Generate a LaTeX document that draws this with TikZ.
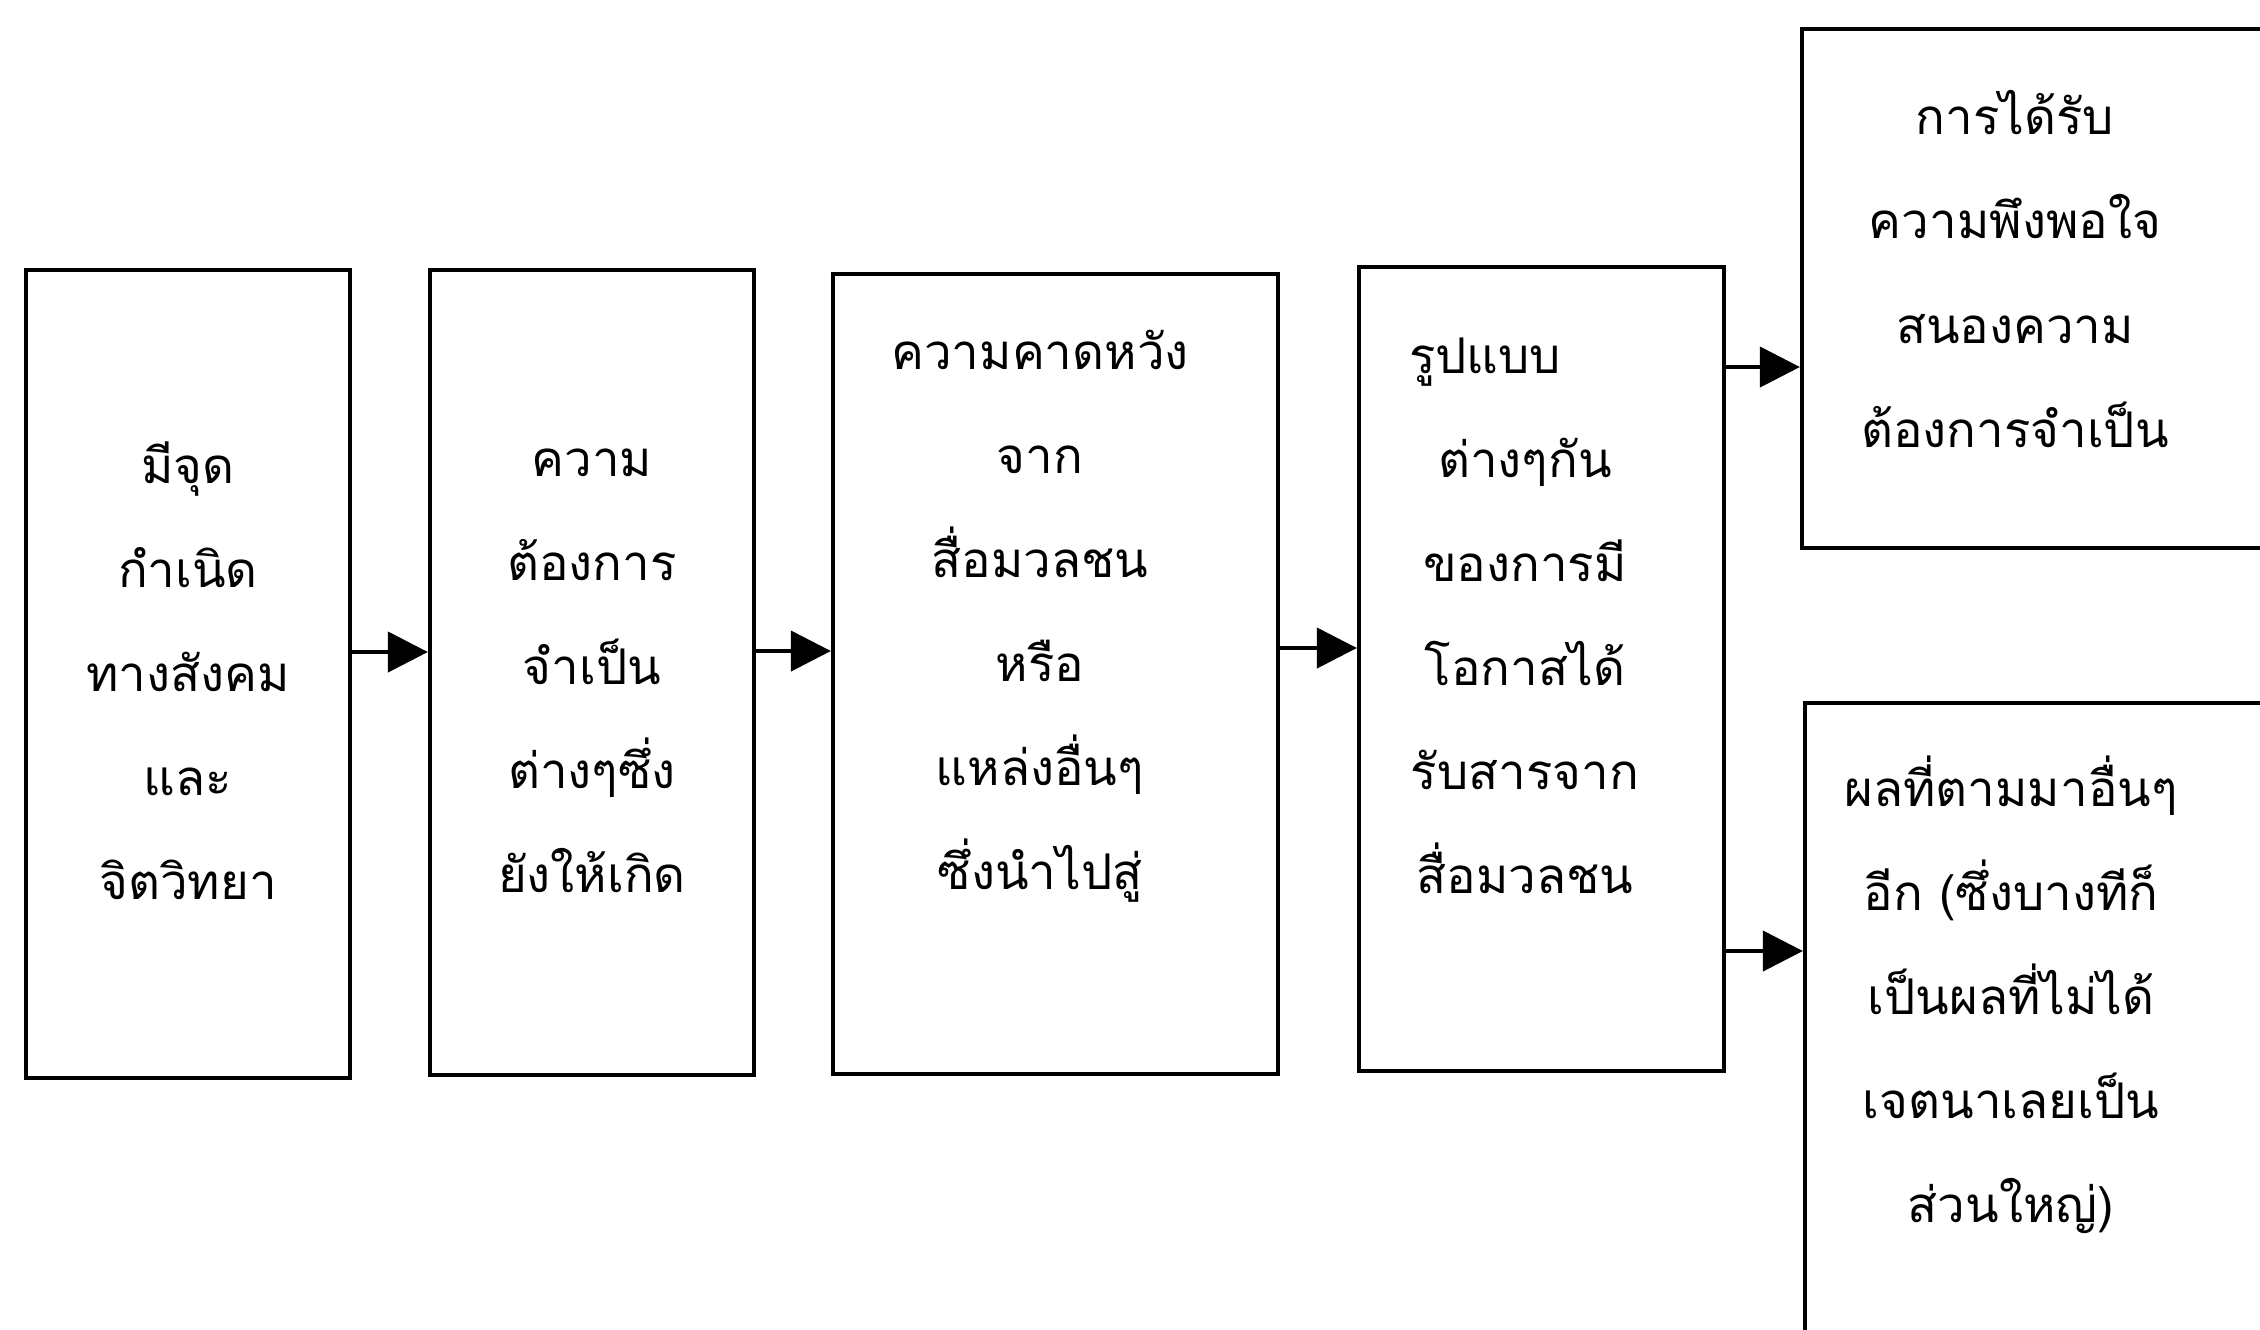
\documentclass[tikz,border=0pt]{standalone}
\usepackage{fontspec}
\newfontfamily\thaifont[Script=Thai]{Loma}
\usetikzlibrary{arrows.meta,fit}
\tikzset{
  box/.style={draw, line width=1.2pt, inner sep=0pt},
  txt/.style={font=\thaifont\fontsize{14}{29.6}\selectfont, align=center, inner sep=0pt},
  arr/.style={line width=1.2pt, -{Triangle[length=0.4cm,width=0.4cm]}}
}
\begin{document}
\begin{tikzpicture}[x=0.01cm,y=-0.01cm]
\useasboundingbox (0,0) rectangle (2260,1329);
\clip (0,0) rectangle (2260,1329);
\fill[white] (0,0) rectangle (2260,1329);
% boxes
\node[box, fit={(26,270) (350,1078)}] (b1) {};
\node[box, fit={(430,270) (754,1075)}] (b2) {};
\node[box, fit={(833,274) (1278,1074)}] (b3) {};
\node[box, fit={(1359,267) (1724,1071)}] (b4) {};
\node[box, fit={(1802,29) (2300,548)}] (b5) {};
\node[box, fit={(1805,703) (2300,1400)}] (b6) {};
% texts
\node[txt] (t1) at (188,671) {มีจุด\\กำเนิด\\ทางสังคม\\และ\\จิตวิทยา};
\node[txt] (t2) at (592,671) {ความ\\ต้องการ\\จำเป็น\\ต่างๆซึ่ง\\ยังให้เกิด};
\node[txt] (t3) at (1040,616) {ความคาดหวัง\\จาก\\สื่อมวลชน\\หรือ\\แหล่งอื่นๆ\\ซึ่งนำไปสู่};
\node[txt] (t4) at (1525,616) {รูปแบบ\hspace*{0.8cm}\\ต่างๆกัน\\ของการมี\\โอกาสได้\\รับสารจาก\\สื่อมวลชน};
\node[txt] (t5) at (2015,269) {การได้รับ\\ความพึงพอใจ\\สนองความ\\ต้องการจำเป็น};
\node[txt] (t6) at (2011,995) {ผลที่ตามมาอื่นๆ\\อีก (ซึ่งบางทีก็\\เป็นผลที่ไม่ได้\\เจตนาเลยเป็น\\ส่วนใหญ่)};
% arrow levels
\coordinate (y1) at (0,652);
\coordinate (y2) at (0,651);
\coordinate (y3) at (0,648);
\coordinate (y4) at (0,367);
\coordinate (y5) at (0,951);
\draw[arr] (b1.east |- y1) -- (b2.west |- y1);
\draw[arr] (b2.east |- y2) -- (b3.west |- y2);
\draw[arr] (b3.east |- y3) -- (b4.west |- y3);
\draw[arr] (b4.east |- y4) -- (b5.west |- y4);
\draw[arr] (b4.east |- y5) -- (b6.west |- y5);
\end{tikzpicture}
\end{document}
